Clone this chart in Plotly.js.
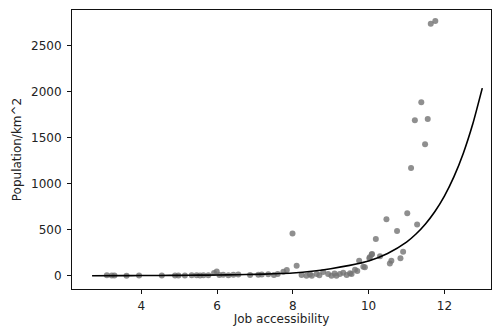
<!DOCTYPE html>
<html>
<head>
<meta charset="utf-8">
<script src="https://cdn.plot.ly/plotly-3.0.1.min.js"></script>
<style>html,body{margin:0;padding:0;background:#fff;}#chart{width:492px;height:326px;}</style>
</head>
<body>
<div id="chart"></div>
<script>
// Observed points (job accessibility, population density)
const accessX = [3.09,3.22,3.29,3.61,3.94,4.54,4.89,4.98,5.15,5.33,5.46,5.55,5.64,5.77,5.92,5.99,6.06,6.16,6.30,6.43,6.56,6.87,7.09,7.18,7.35,7.50,7.60,7.75,7.84,7.99,8.10,8.23,8.36,8.45,8.50,8.63,8.70,8.80,8.93,9.02,9.10,9.15,9.24,9.33,9.42,9.51,9.55,9.64,9.70,9.75,9.86,9.90,10.02,10.03,10.08,10.09,10.19,10.30,10.47,10.56,10.60,10.75,10.84,10.91,11.02,11.12,11.22,11.28,11.39,11.49,11.56,11.64,11.76];
const densityY = [5,3,2,0,2,2,2,3,3,4,4,3,5,6,30,45,8,10,6,10,12,8,10,12,15,8,20,43,62,458,108,8,0,15,0,18,5,40,18,0,25,0,18,33,8,26,18,65,50,163,98,91,189,200,230,235,398,210,612,134,163,485,189,260,678,1169,1686,555,1881,1426,1700,2734,2764];
// Fitted curve
const fitX = [2.7,3.5,4,4.5,5,5.5,6,6.5,7,7.5,8,8.5,9,9.5,10,10.5,11,11.25,11.5,11.75,12,12.25,12.5,12.75,13];
const fitY = [0,1,2,3,4,6,8,11,15,21,30,48,76,112,160,242,365,453,562,697,864,1072,1329,1648,2035];

const traces = [
  {x: accessX, y: densityY, type: 'scatter', mode: 'markers',
   marker: {color: 'rgba(115,115,115,0.8)', size: 6, line: {width: 0}}, hoverinfo: 'skip'},
  {x: fitX, y: fitY, type: 'scatter', mode: 'lines',
   line: {color: '#000', width: 1.6, shape: 'spline', smoothing: 0.6}, hoverinfo: 'skip'}
];
const tf = {family: 'DejaVu Sans', size: 12, color: '#222'};
const axisCommon = {
  showgrid: false, zeroline: false, showline: true, linecolor: '#111', linewidth: 1,
  mirror: true, ticks: 'outside', ticklen: 4, tickwidth: 1, tickcolor: '#111',
  tickfont: tf
};
const layout = {
  width: 492, height: 326,
  margin: {l: 72, r: 1, t: 10, b: 37},
  paper_bgcolor: '#fff', plot_bgcolor: '#fff',
  showlegend: false,
  xaxis: Object.assign({}, axisCommon, {
    range: [2.17, 13.23], tickvals: [4,6,8,10,12], ticktext: ['4','6','8','10','12'],
    ticklabelstandoff: 2,
    title: {text: 'Job accessibility', font: tf, standoff: 7}
  }),
  yaxis: Object.assign({}, axisCommon, {
    range: [-144, 2883], tickvals: [0,500,1000,1500,2000,2500],
    ticktext: ['0','500','1000','1500','2000','2500'],
    ticklabelstandoff: 3,
    title: {text: 'Population/km^2', font: tf, standoff: 6}
  })
};
Plotly.newPlot('chart', traces, layout, {staticPlot: true, displayModeBar: false});
</script>
</body>
</html>
